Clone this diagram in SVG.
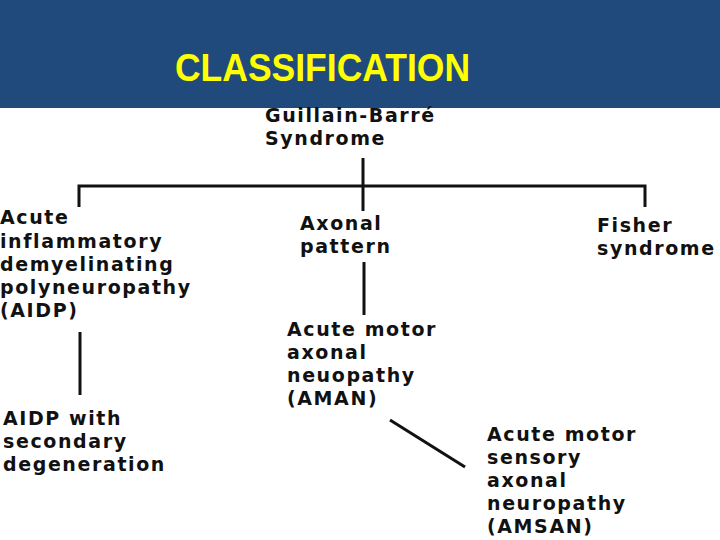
<svg xmlns="http://www.w3.org/2000/svg" width="720" height="540" viewBox="0 0 720 540">
<style>
.t{font-family:"DejaVu Sans","Liberation Sans",sans-serif;font-weight:bold;font-size:19px;letter-spacing:1.6px;fill:#111}
.ln{stroke:#111;stroke-width:3;fill:none}
</style>
<rect width="720" height="540" fill="#ffffff"/>
<g id="header">
<rect x="0" y="0" width="720" height="108" fill="#214A7C"/>
<text x="175" y="81" font-family="Liberation Sans, Arial, sans-serif" font-weight="bold" font-size="39" fill="#FFFF00" textLength="295" lengthAdjust="spacingAndGlyphs">CLASSIFICATION</text>
</g>
<g id="connectors">
<line class="ln" x1="363" y1="158" x2="363" y2="211"/>
<polyline class="ln" points="79,207 79,186 645,186 645,207"/>
<line class="ln" x1="364" y1="262" x2="364" y2="315"/>
<line class="ln" x1="80" y1="332" x2="80" y2="395"/>
<line class="ln" x1="390" y1="420" x2="465" y2="467"/>
</g>
<g id="gbs"><text class="t" x="265" y="122">Guillain-Barré</text><text class="t" x="265" y="145">Syndrome</text></g>
<g id="aidp"><text class="t" x="0" y="224">Acute</text><text class="t" x="0" y="248">inflammatory</text><text class="t" x="0" y="271">demyelinating</text><text class="t" x="0" y="294">polyneuropathy</text><text class="t" x="0" y="317">(AIDP)</text></g>
<g id="axonal"><text class="t" x="300" y="230">Axonal</text><text class="t" x="300" y="253">pattern</text></g>
<g id="fisher"><text class="t" x="597" y="232">Fisher</text><text class="t" x="597" y="255">syndrome</text></g>
<g id="aman"><text class="t" x="287" y="336">Acute motor</text><text class="t" x="287" y="359">axonal</text><text class="t" x="287" y="382">neuopathy</text><text class="t" x="287" y="405">(AMAN)</text></g>
<g id="aidp2"><text class="t" x="3" y="425">AIDP with</text><text class="t" x="3" y="448">secondary</text><text class="t" x="3" y="471">degeneration</text></g>
<g id="amsan"><text class="t" x="487" y="441">Acute motor</text><text class="t" x="487" y="464">sensory</text><text class="t" x="487" y="487">axonal</text><text class="t" x="487" y="510">neuropathy</text><text class="t" x="487" y="533">(AMSAN)</text></g>
</svg>
